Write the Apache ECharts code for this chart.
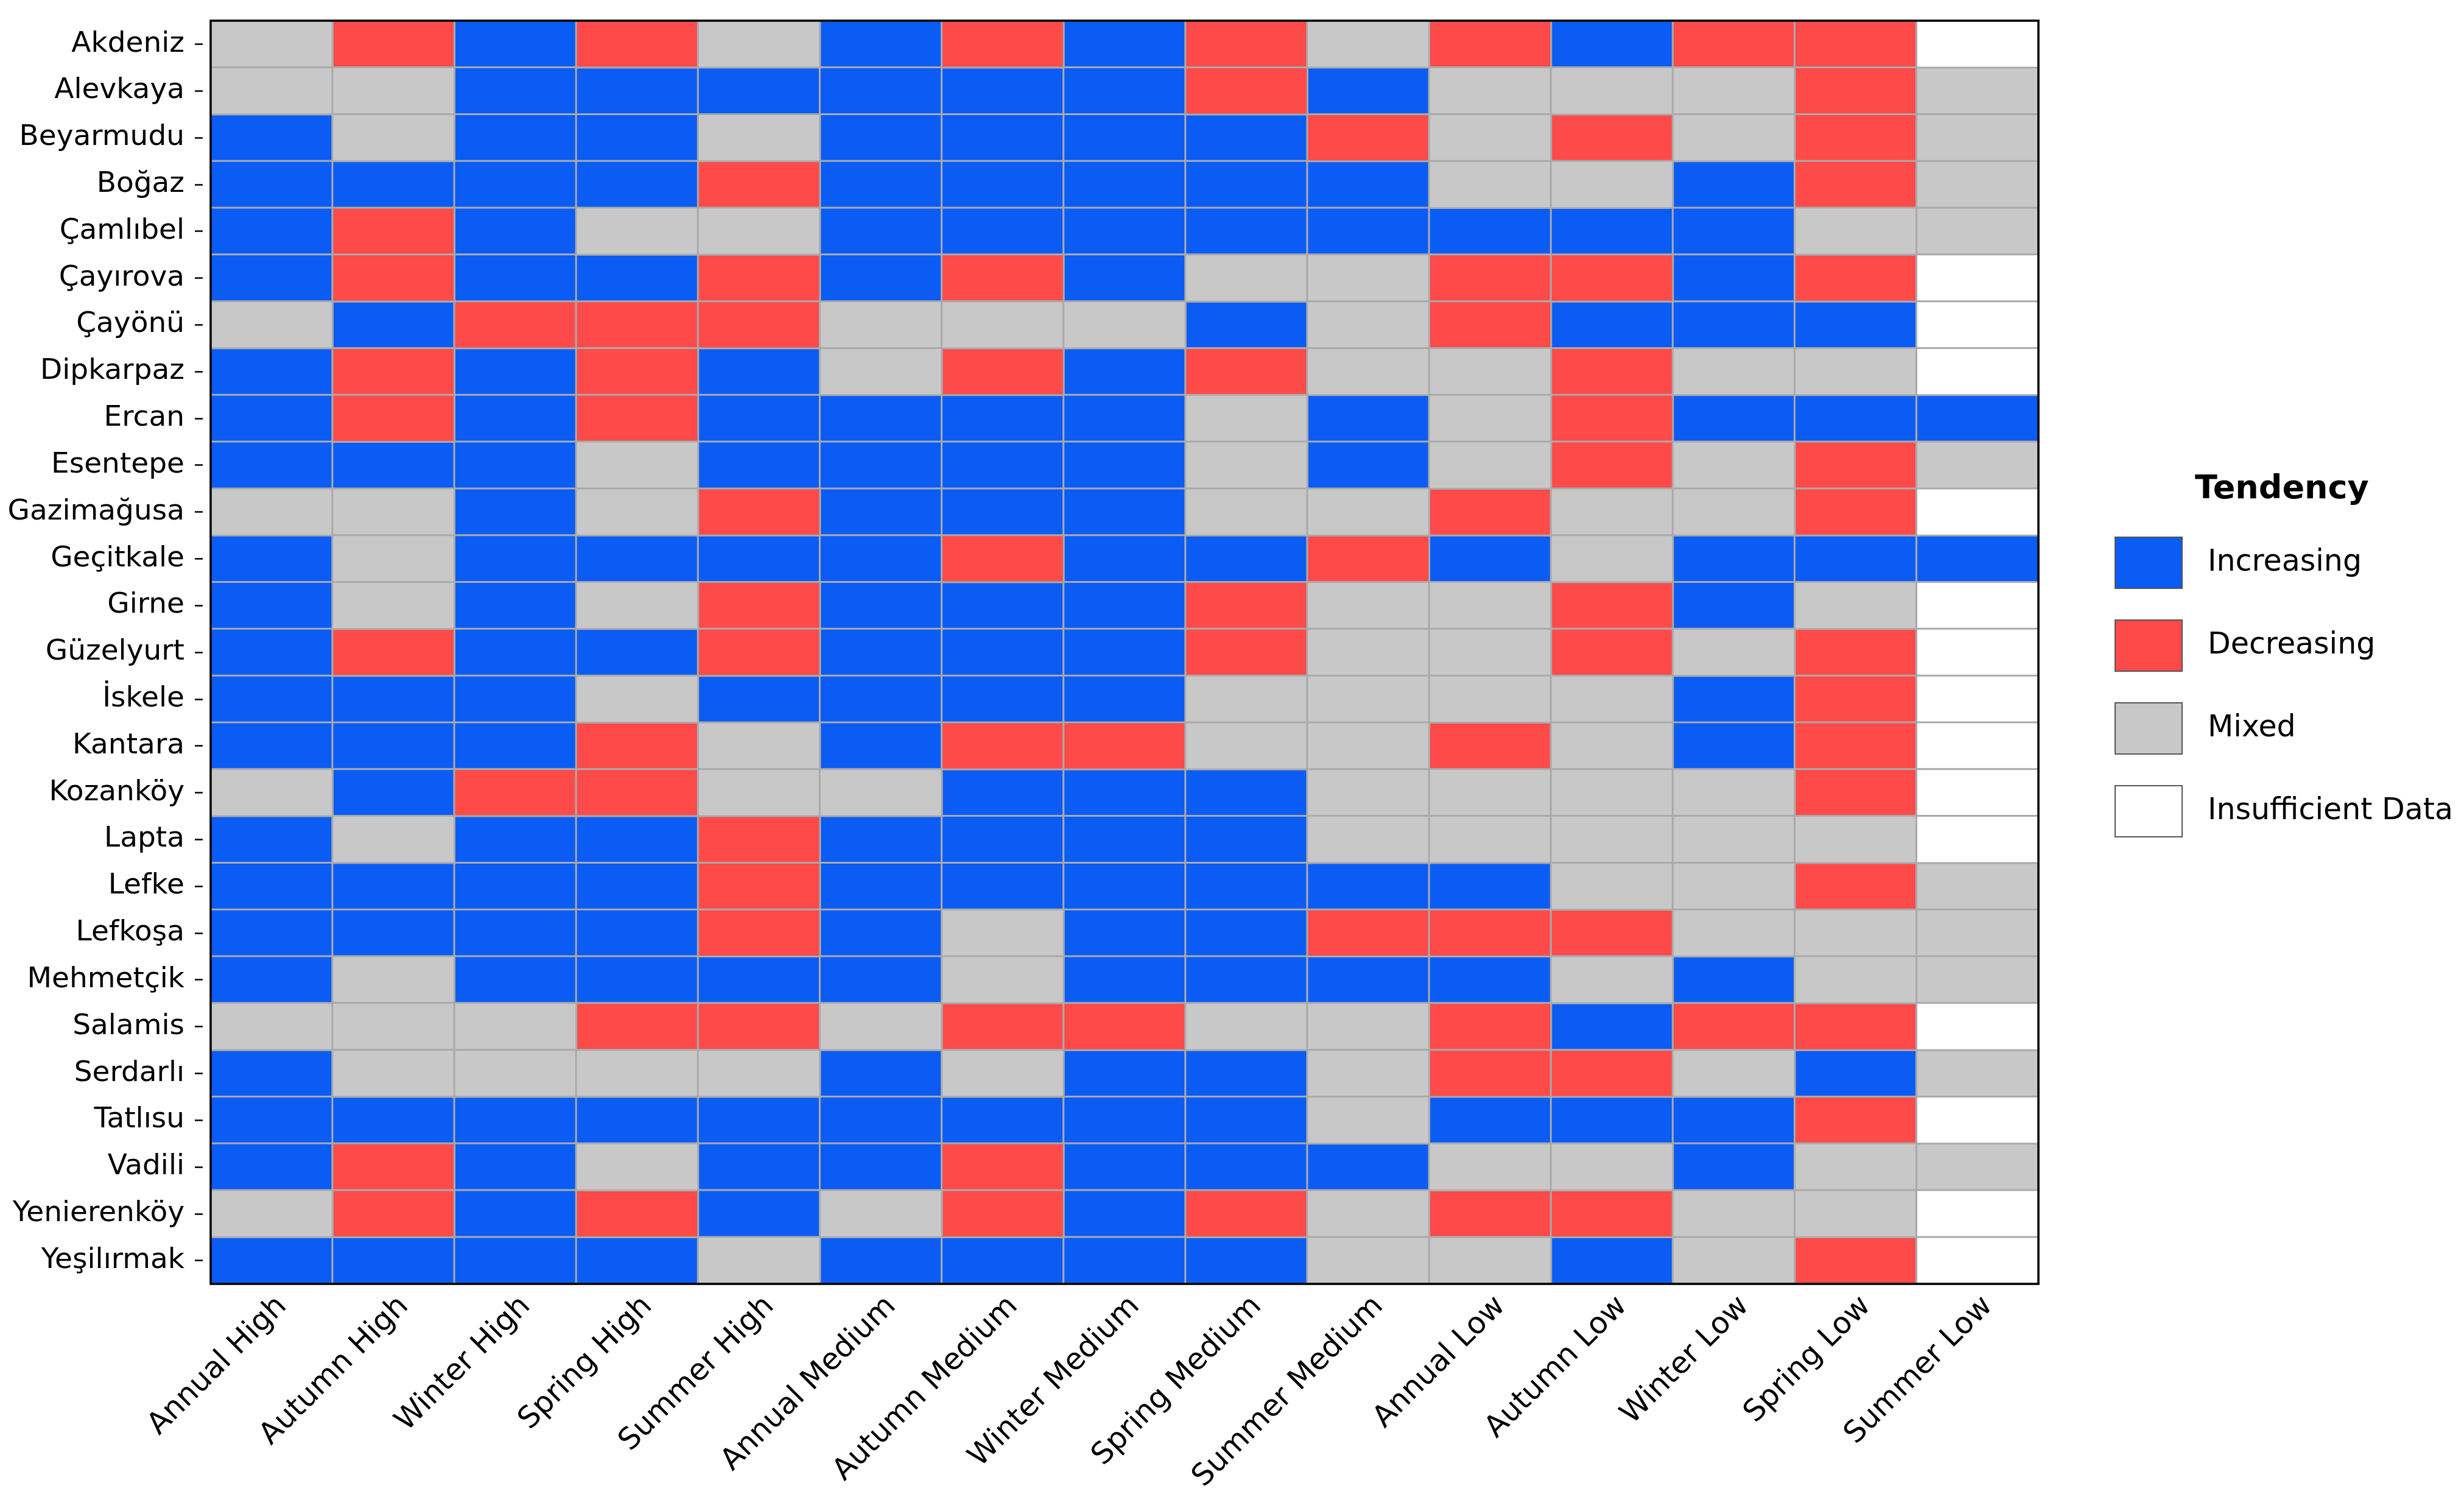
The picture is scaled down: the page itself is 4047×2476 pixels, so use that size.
<!DOCTYPE html>
<html>
<head>
<meta charset="utf-8">
<script src="https://cdn.jsdelivr.net/npm/echarts@6/dist/echarts.min.js"></script>
<style>
html,body{margin:0;padding:0;background:#fff;}
#chart{width:4047px;height:2476px;}
</style>
</head>
<body>
<div id="chart"></div>
<script>
const stations = ['Akdeniz','Alevkaya','Beyarmudu','Boğaz','Çamlıbel','Çayırova','Çayönü','Dipkarpaz','Ercan','Esentepe','Gazimağusa','Geçitkale','Girne','Güzelyurt','İskele','Kantara','Kozanköy','Lapta','Lefke','Lefkoşa','Mehmetçik','Salamis','Serdarlı','Tatlısu','Vadili','Yenierenköy','Yeşilırmak'];
const periods = ['Annual High','Autumn High','Winter High','Spring High','Summer High','Annual Medium','Autumn Medium','Winter Medium','Spring Medium','Summer Medium','Annual Low','Autumn Low','Winter Low','Spring Low','Summer Low'];
const tendencyCodes = ['I','D','M','N'];
const tendencyNames = ['Increasing','Decreasing','Mixed','Insufficient Data'];
const tendencyColors = ['#0a5cf5','#ff4a4a','#c8c8c8','#ffffff'];
// One row per station, one code per period (I=Increasing, D=Decreasing, M=Mixed, N=Insufficient Data)
const tendencyRows = [
  ['M','D','I','D','M','I','D','I','D','M','D','I','D','D','N'],
  ['M','M','I','I','I','I','I','I','D','I','M','M','M','D','M'],
  ['I','M','I','I','M','I','I','I','I','D','M','D','M','D','M'],
  ['I','I','I','I','D','I','I','I','I','I','M','M','I','D','M'],
  ['I','D','I','M','M','I','I','I','I','I','I','I','I','M','M'],
  ['I','D','I','I','D','I','D','I','M','M','D','D','I','D','N'],
  ['M','I','D','D','D','M','M','M','I','M','D','I','I','I','N'],
  ['I','D','I','D','I','M','D','I','D','M','M','D','M','M','N'],
  ['I','D','I','D','I','I','I','I','M','I','M','D','I','I','I'],
  ['I','I','I','M','I','I','I','I','M','I','M','D','M','D','M'],
  ['M','M','I','M','D','I','I','I','M','M','D','M','M','D','N'],
  ['I','M','I','I','I','I','D','I','I','D','I','M','I','I','I'],
  ['I','M','I','M','D','I','I','I','D','M','M','D','I','M','N'],
  ['I','D','I','I','D','I','I','I','D','M','M','D','M','D','N'],
  ['I','I','I','M','I','I','I','I','M','M','M','M','I','D','N'],
  ['I','I','I','D','M','I','D','D','M','M','D','M','I','D','N'],
  ['M','I','D','D','M','M','I','I','I','M','M','M','M','D','N'],
  ['I','M','I','I','D','I','I','I','I','M','M','M','M','M','N'],
  ['I','I','I','I','D','I','I','I','I','I','I','M','M','D','M'],
  ['I','I','I','I','D','I','M','I','I','D','D','D','M','M','M'],
  ['I','M','I','I','I','I','M','I','I','I','I','M','I','M','M'],
  ['M','M','M','D','D','M','D','D','M','M','D','I','D','D','N'],
  ['I','M','M','M','M','I','M','I','I','M','D','D','M','I','M'],
  ['I','I','I','I','I','I','I','I','I','M','I','I','I','D','N'],
  ['I','D','I','M','I','I','D','I','I','I','M','M','I','M','M'],
  ['M','D','I','D','I','M','D','I','D','M','D','D','M','M','N'],
  ['I','I','I','I','M','I','I','I','I','M','M','I','M','D','N']
];

const FONT = 'DejaVu Sans';

const series = tendencyCodes.map(function (code, k) {
  const data = [];
  tendencyRows.forEach(function (row, r) {
    row.forEach(function (c, p) {
      if (c === code) data.push([p, r, k]);
    });
  });
  return {
    type: 'heatmap',
    name: tendencyNames[k],
    data: data,
    itemStyle: { color: tendencyColors[k], borderColor: '#aaaaaa', borderWidth: 3 },
    emphasis: { disabled: true }
  };
});

const chart = echarts.init(document.getElementById('chart'), null, { renderer: 'canvas' });
chart.setOption({
  animation: false,
  backgroundColor: '#ffffff',
  textStyle: { fontFamily: FONT },
  title: {
    text: 'Tendency',
    left: 3605,
    top: 777,
    padding: 0,
    textStyle: { fontFamily: FONT, fontSize: 54, fontWeight: 'bold', color: '#000' }
  },
  legend: {
    orient: 'vertical',
    left: 3473,
    top: 881,
    padding: 0,
    itemWidth: 110,
    itemHeight: 84,
    itemGap: 50,
    icon: 'rect',
    selectedMode: false,
    data: tendencyNames,
    itemStyle: { borderColor: '#555555', borderWidth: 2 },
    textStyle: { fontFamily: FONT, fontSize: 49, color: '#000', padding: [0, 0, 0, 37] }
  },
  grid: {
    left: 346,
    top: 34,
    width: 3002,
    height: 2074,
    show: true,
    z: 10,
    backgroundColor: 'transparent',
    borderColor: '#000000',
    borderWidth: 3.5
  },
  xAxis: {
    type: 'category',
    data: periods,
    axisLine: { show: false },
    axisTick: { show: false },
    splitLine: { show: false },
    axisLabel: {
      interval: 0,
      rotate: 45,
      align: 'right',
      verticalAlign: 'top',
      margin: 12,
      fontFamily: FONT,
      fontSize: 49,
      color: '#000'
    }
  },
  yAxis: {
    type: 'category',
    data: stations,
    inverse: true,
    offset: 13,
    axisLine: { show: false },
    axisTick: { show: true, alignWithLabel: true, length: 13, lineStyle: { color: '#000', width: 2.5 } },
    splitLine: { show: false },
    axisLabel: {
      interval: 0,
      margin: 30,
      fontFamily: FONT,
      fontSize: 47,
      color: '#000'
    }
  },
  series: series
});
</script>
</body>
</html>
